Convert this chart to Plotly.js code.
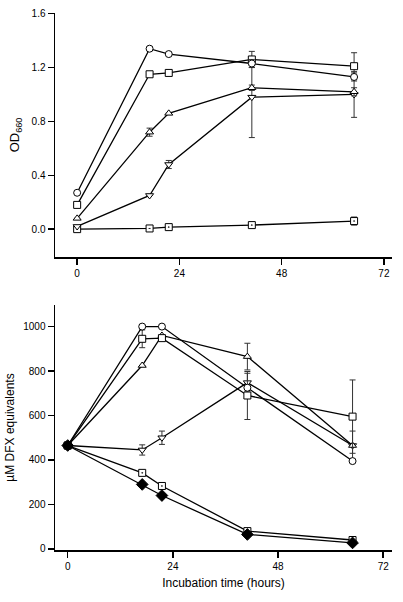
<!DOCTYPE html>
<html>
<head>
<meta charset="utf-8">
<script src="https://cdn.plot.ly/plotly-3.0.1.min.js"></script>
<style>
html, body { margin: 0; padding: 0; background: #fff; }
#chart { width: 403px; height: 602px; }
</style>
</head>
<body>
<div id="chart"></div>
<script>
// Incubation times (hours)
const times = [0, 17, 21.5, 41, 65];
const xTicks = [0, 24, 48, 72];

// Top panel: OD660
const odCircle   = [0.27, 1.34, 1.30, 1.23, 1.13];
const odSquare   = [0.18, 1.15, 1.16, 1.26, 1.21];
const odTriUp    = [0.08, 0.72, 0.86, 1.05, 1.02];
const odTriDown  = [0.02, 0.25, 0.48, 0.98, 1.00];
const odSqDot    = [0.00, 0.005, 0.015, 0.03, 0.06];

const odCircleErr  = [0, 0, 0, 0.03, 0.03];
const odSquareErr  = [0, 0, 0, 0.06, 0.10];
const odTriUpErr   = [0, 0.03, 0, 0.02, 0.03];
const odTriDownErr = [0, 0, 0.03, 0.30, 0.17];
const odSqDotErr   = [0, 0, 0, 0.01, 0.03];

// Bottom panel: µM DFX equivalents
const dfxCircle   = [465, 1000, 1000, 725, 395];
const dfxSquare   = [465, 945, 948, 690, 595];
const dfxTriUp    = [465, 825, 960, 865, 465];
const dfxTriDown  = [465, 445, 500, 748, 465];
const dfxSqDot    = [465, 342, 283, 80, 40];
const dfxDiamond  = [465, 290, 240, 65, 27];

const dfxCircleErr   = [0, 0, 0, 0, 0];
const dfxSquareErr   = [0, 40, 0, 108, 165];
const dfxTriUpErr    = [0, 0, 0, 60, 0];
const dfxTriDownErr  = [0, 23, 30, 42, 65];
const dfxSqDotErr    = [0, 0, 0, 0, 0];
const dfxDiamondErr  = [0, 0, 0, 0, 0];

function mk(y, err, symbol, fill, size, xa, ya) {
  return {
    x: times, y: y, xaxis: xa, yaxis: ya,
    type: 'scatter', mode: 'lines+markers',
    line: { color: '#000', width: 1.3 },
    marker: { symbol: symbol, size: size, color: fill, line: { color: '#000', width: 1 } },
    error_y: { type: 'data', array: err, visible: true, color: '#333', thickness: 1, width: 3 },
    showlegend: false, hoverinfo: 'skip'
  };
}

const traces = [
  mk(odSqDot, odSqDotErr, 'square-dot', '#fff', 7, 'x', 'y'),
  mk(odTriDown, odTriDownErr, 'triangle-down', '#fff', 7, 'x', 'y'),
  mk(odTriUp, odTriUpErr, 'triangle-up', '#fff', 7, 'x', 'y'),
  mk(odSquare, odSquareErr, 'square', '#fff', 7, 'x', 'y'),
  mk(odCircle, odCircleErr, 'circle', '#fff', 7, 'x', 'y'),

  mk(dfxSqDot, dfxSqDotErr, 'square-dot', '#fff', 7, 'x2', 'y2'),
  mk(dfxTriDown, dfxTriDownErr, 'triangle-down', '#fff', 7, 'x2', 'y2'),
  mk(dfxTriUp, dfxTriUpErr, 'triangle-up', '#fff', 7, 'x2', 'y2'),
  mk(dfxSquare, dfxSquareErr, 'square', '#fff', 7, 'x2', 'y2'),
  mk(dfxCircle, dfxCircleErr, 'circle', '#fff', 7, 'x2', 'y2'),
  mk(dfxDiamond, dfxDiamondErr, 'diamond', '#000', 9, 'x2', 'y2')
];

const FONT = 'Liberation Sans, Arial, sans-serif';
const axBase = {
  showline: true, linecolor: '#000', linewidth: 1.5,
  ticks: 'outside', ticklen: 6, tickwidth: 1.5, tickcolor: '#000',
  showgrid: false, zeroline: false, mirror: false,
  tickfont: { family: FONT, size: 10, color: '#000' }
};

const layout = {
  width: 403, height: 602,
  margin: { l: 55, r: 11, t: 13, b: 52 },
  paper_bgcolor: '#fff', plot_bgcolor: '#fff',
  font: { family: FONT, color: '#000' },
  xaxis: Object.assign({}, axBase, {
    domain: [0, 1], anchor: 'y', range: [-5.2, 73.9],
    tickvals: xTicks, ticktext: xTicks.map(String)
  }),
  yaxis: Object.assign({}, axBase, {
    domain: [0.5456, 1], anchor: 'x', range: [-0.207, 1.605],
    tickvals: [0, 0.4, 0.8, 1.2, 1.6], tickformat: '.1f',
    title: { text: 'OD<sub>660</sub>', font: { size: 13, family: FONT }, standoff: 9 }
  }),
  xaxis2: Object.assign({}, axBase, {
    domain: [0, 1], anchor: 'y2', range: [-2.9, 74.0],
    tickvals: xTicks, ticktext: xTicks.map(String),
    title: { text: 'Incubation time (hours)', font: { size: 12, family: FONT }, standoff: 8 }
  }),
  yaxis2: Object.assign({}, axBase, {
    domain: [0, 0.4562], anchor: 'x2', range: [-5, 1097],
    tickvals: [0, 200, 400, 600, 800, 1000],
    title: { text: 'µM DFX equivalents', font: { size: 12, family: FONT }, standoff: 6 }
  })
};

Plotly.newPlot('chart', traces, layout, { displayModeBar: false, staticPlot: true });
</script>
</body>
</html>
